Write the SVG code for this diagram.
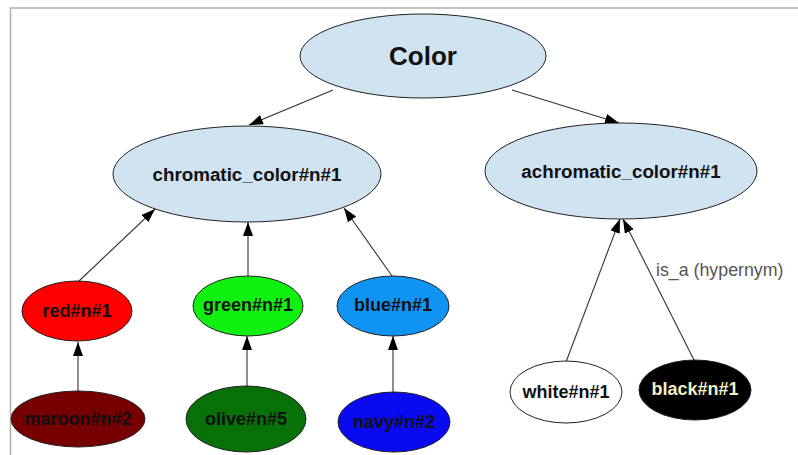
<svg xmlns="http://www.w3.org/2000/svg" width="798" height="455" viewBox="0 0 798 455">
  <defs>
    <marker id="arrow" markerUnits="userSpaceOnUse" markerWidth="15" markerHeight="11" refX="14" refY="5" orient="auto">
      <path d="M0,0 L14,5 L0,10 z" fill="#000"/>
    </marker>
    <style>
      .frame { stroke: #b0b0b0; stroke-width: 1.5; fill: none; }
      .edge { stroke: #333; stroke-width: 1.1; fill: none; marker-end: url(#arrow); }
      .node ellipse { stroke: #222; stroke-width: 1; }
      .node text { font-family: "Liberation Sans", Arial, sans-serif; font-weight: bold; text-anchor: middle; dominant-baseline: central; fill: #111; }
      .syn { fill: #d0e3f1; }
      .mid { font-size: 18.8px; }
      .leaf { font-size: 18px; }
      .label { font-family: "Liberation Sans", Arial, sans-serif; font-size: 17.8px; fill: #555; }
    </style>
  </defs>

  <!-- outer frame -->
  <path class="frame" d="M10.5,455 L10.5,8 L798,8"/>

  <!-- hypernym edges -->
  <g id="edges">
    <line class="edge" x1="333" y1="90" x2="249" y2="125"/>
    <line class="edge" x1="512" y1="90" x2="619" y2="123"/>
    <line class="edge" x1="79" y1="281" x2="155" y2="209"/>
    <line class="edge" x1="248" y1="276" x2="248" y2="222"/>
    <line class="edge" x1="392" y1="276" x2="344" y2="208"/>
    <line class="edge" x1="78" y1="391" x2="78" y2="342"/>
    <line class="edge" x1="247" y1="386" x2="247" y2="336"/>
    <line class="edge" x1="393" y1="392" x2="393" y2="336"/>
    <line class="edge" x1="566" y1="362" x2="620" y2="219"/>
    <line class="edge" x1="694" y1="360" x2="623" y2="219"/>
    <text class="label" x="656" y="276">is_a (hypernym)</text>
  </g>

  <g id="color" class="node">
    <ellipse class="syn" cx="423" cy="56" rx="123" ry="42"/>
    <text x="423" y="56" style="font-size:26px">Color</text>
  </g>
  <g id="chromatic_color" class="node">
    <ellipse class="syn" cx="247" cy="174" rx="134" ry="48"/>
    <text class="mid" x="247" y="174">chromatic_color#n#1</text>
  </g>
  <g id="achromatic_color" class="node">
    <ellipse class="syn" cx="621" cy="171" rx="136" ry="48"/>
    <text class="mid" x="621" y="171">achromatic_color#n#1</text>
  </g>
  <g id="red" class="node">
    <ellipse fill="#ff0000" cx="77" cy="311" rx="55" ry="30"/>
    <text class="leaf" x="77" y="311">red#n#1</text>
  </g>
  <g id="green" class="node">
    <ellipse fill="#11f111" cx="248" cy="306" rx="55" ry="30"/>
    <text class="leaf" x="248" y="305">green#n#1</text>
  </g>
  <g id="blue" class="node">
    <ellipse fill="#1094f4" cx="393" cy="306" rx="56" ry="30"/>
    <text class="leaf" x="393" y="305">blue#n#1</text>
  </g>
  <g id="maroon" class="node">
    <ellipse fill="#760000" cx="78" cy="419" rx="67" ry="28"/>
    <text class="leaf" x="78" y="419">maroon#n#2</text>
  </g>
  <g id="olive" class="node">
    <ellipse fill="#077007" cx="246" cy="419" rx="60" ry="33"/>
    <text class="leaf" x="246" y="419">olive#n#5</text>
  </g>
  <g id="navy" class="node">
    <ellipse fill="#0a0af0" cx="394" cy="422" rx="56" ry="30"/>
    <text class="leaf" x="394" y="422">navy#n#2</text>
  </g>
  <g id="white" class="node">
    <ellipse fill="#ffffff" cx="566" cy="392" rx="56" ry="31"/>
    <text class="leaf" x="566" y="392">white#n#1</text>
  </g>
  <g id="black" class="node">
    <ellipse fill="#000000" cx="695" cy="390" rx="56" ry="30"/>
    <text class="leaf" x="695" y="389" style="fill:#f3efc4">black#n#1</text>
  </g>
</svg>
